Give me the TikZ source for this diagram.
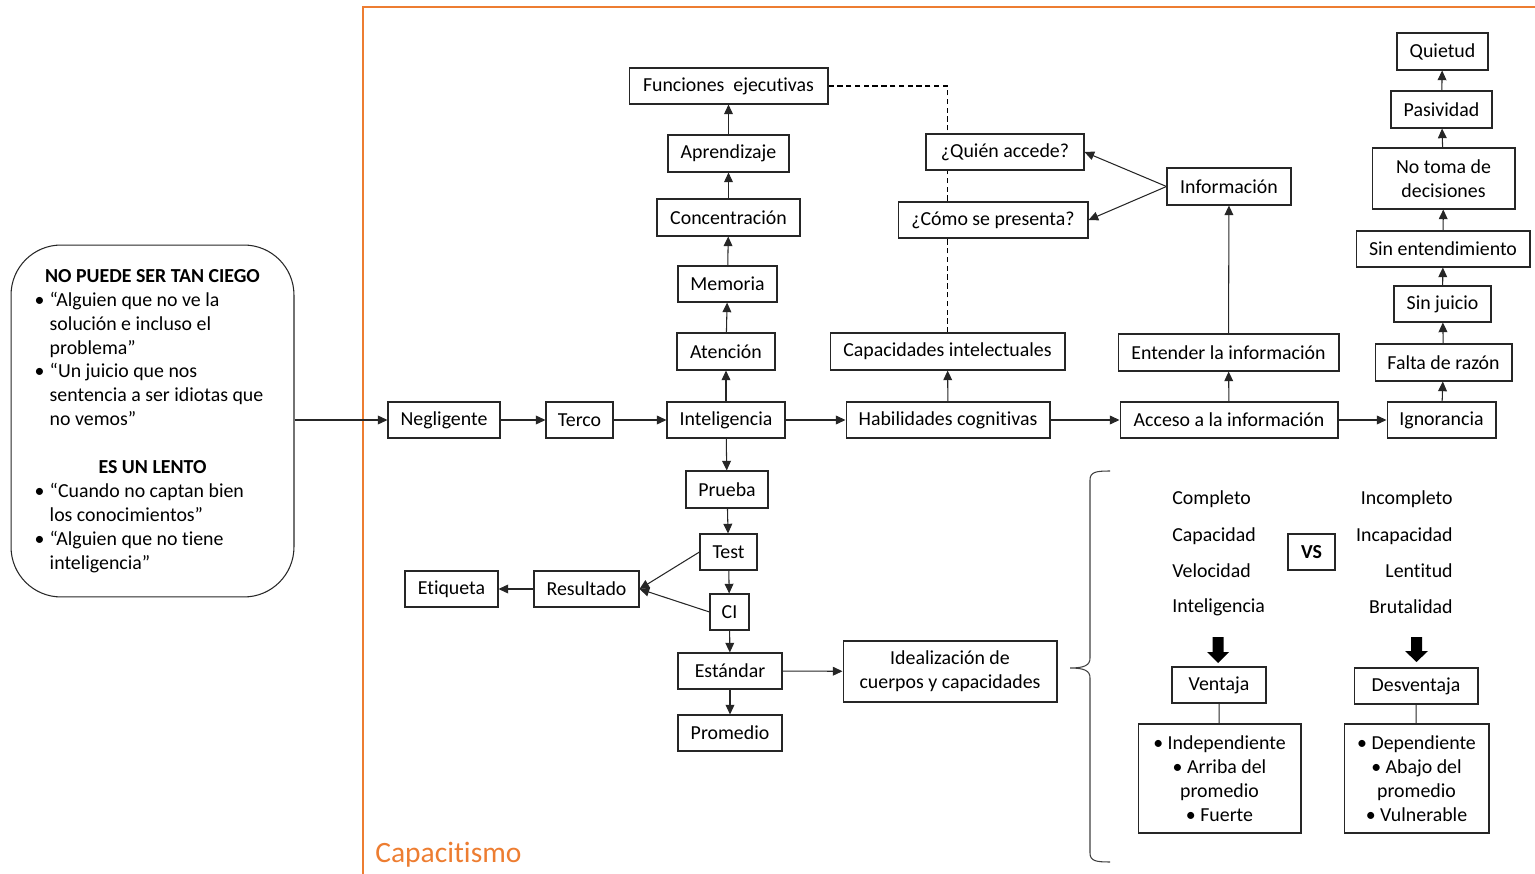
\documentclass[tikz,border=0pt]{standalone}
\usepackage{fontspec}
\setmainfont{Carlito}[Ligatures=NoCommon]
\usetikzlibrary{arrows.meta}
\definecolor{orng}{RGB}{237,125,49}
\begin{document}
\begin{tikzpicture}[x=0.02cm,y=-0.02cm,
  box/.style={draw=black!85,line width=0.6pt,fill=white,inner sep=0pt,minimum height=0.72cm,align=center,font=\fontsize{11.3}{13.6}\selectfont},
  txt/.style={inner sep=0pt,font=\fontsize{11.3}{13.6}\selectfont},
  arr/.style={-{Triangle[length=5.5pt,width=5pt]},line width=0.6pt,draw=black!85},
  ln/.style={line width=0.6pt,draw=black!85},
  dsh/.style={line width=0.6pt,dash pattern=on 3pt off 2pt},
  bigarrow/.style={fill=black}]
\useasboundingbox (0,0) rectangle (1535,874);
% frame
\draw[orng,line width=0.6pt] (363,874) -- (363,7) -- (1535,7);
\node[anchor=west,text=orng,inner sep=0pt,font=\fontsize{16.8}{20}\selectfont] (cap0) at (375,855) {Capacitismo};
% left box
\node[draw=black!85,line width=0.6pt,rounded corners=1cm,minimum width=5.66cm,minimum height=7.04cm,inner sep=0pt,font=\fontsize{11.3}{13.6}\selectfont] (left) at (152.5,421)
{\begin{tabular}{@{}l@{\hspace{3pt}}l@{}}
\multicolumn{2}{c}{\textbf{NO PUEDE SER TAN CIEGO}}\\
\textbullet & “Alguien que no ve la\\
 & solución e incluso el\\
 & problema”\\
\textbullet & “Un juicio que nos\\
 & sentencia a ser idiotas que\\
 & no vemos”\\
 & \\
\multicolumn{2}{c}{\textbf{ES UN LENTO}}\\
\textbullet & “Cuando no captan bien\\
 & los conocimientos”\\
\textbullet & “Alguien que no tiene\\
 & inteligencia”
\end{tabular}};
% main row
\node[box,minimum width=2.24cm] (neg) at (444,420) {Negligente};
\node[box,minimum width=1.34cm] (terco) at (579.5,420) {Terco};
\node[box,minimum width=2.36cm] (intel) at (726,420) {Inteligencia};
\node[box,minimum width=4.08cm] (hab) at (948,420) {Habilidades cognitivas};
\node[box,minimum width=4.36cm] (acc) at (1229,420) {Acceso a la información};
\node[box,minimum width=2.18cm] (ign) at (1441.5,420) {Ignorancia};
% up column
\node[box,minimum width=1.96cm,minimum height=0.74cm] (aten) at (726,351.5) {Atención};
\node[box,minimum width=1.98cm] (mem) at (727.5,284) {Memoria};
\node[box,minimum width=2.86cm,minimum height=0.74cm] (conc) at (728.5,217.5) {Concentración};
\node[box,minimum width=2.42cm,minimum height=0.74cm] (apr) at (728.5,153.5) {Aprendizaje};
\node[box,minimum width=3.98cm] (fun) at (728.5,86) {Funciones\ \ ejecutivas};
% middle
\node[box,minimum width=4.70cm,minimum height=0.74cm] (capi) at (947.5,351.5) {Capacidades intelectuales};
% dashed line (behind question boxes)
\draw[dsh] (capi.north) |- (fun.east);
\node[box,minimum width=3.16cm] (quien) at (1005,152) {¿Quién accede?};
\node[box,minimum width=3.80cm] (como) at (993,220) {¿Cómo se presenta?};
\node[box,minimum width=2.48cm,minimum height=0.74cm] (info) at (1229,186.5) {Información};
\node[box,minimum width=4.42cm,minimum height=0.74cm] (ent) at (1228.5,352.5) {Entender la información};
% right column
\node[box,minimum width=1.82cm,minimum height=0.74cm] (quiet) at (1442.5,51.5) {Quietud};
\node[box,minimum width=2.02cm,minimum height=0.74cm] (pas) at (1441.5,109.5) {Pasividad};
\node[box,minimum width=2.86cm,minimum height=1.22cm] (notoma) at (1443.5,178.5) {No toma de\\decisiones};
\node[box,minimum width=3.48cm] (sinent) at (1443,249) {Sin entendimiento};
\node[box,minimum width=1.94cm] (sinj) at (1442.5,304) {Sin juicio};
\node[box,minimum width=2.74cm,minimum height=0.74cm] (falta) at (1443.5,362.5) {Falta de razón};
% lower column
\node[box,minimum width=1.64cm,minimum height=0.74cm] (prueba) at (727,489.5) {Prueba};
\node[box,minimum width=1.14cm] (test) at (728.5,552) {Test};
\node[box,minimum width=0.78cm] (ci) at (729.5,612) {CI};
\node[box,minimum width=2.08cm] (est) at (730,671) {Estándar};
\node[box,minimum width=2.08cm] (prom) at (730,733) {Promedio};
\node[box,minimum width=2.10cm] (res) at (586.5,589) {Resultado};
\node[box,minimum width=1.86cm] (etq) at (451.5,589) {Etiqueta};
\node[box,minimum width=4.28cm,minimum height=1.22cm] (ideal) at (950,671.5) {Idealización de\\cuerpos y capacidades};
% connectors
\draw[arr] (left.east |- neg.west) -- (neg.west);
\draw[arr] (neg) -- (terco);
\draw[arr] (terco) -- (intel);
\draw[arr] (intel) -- (hab);
\draw[arr] (hab) -- (acc);
\draw[arr] (acc) -- (ign);
\draw[arr] (intel) -- (aten);
\draw[arr] (aten) -- (mem);
\draw[arr] (mem) -- (conc);
\draw[arr] (conc) -- (apr);
\draw[arr] (apr) -- (fun);
\draw[arr] (hab) -- (capi);
\draw[arr] (acc) -- (ent);
\draw[arr] (ent) -- (info);
\draw[arr] (info.west) -- (quien.east);
\draw[arr] (info.west) -- (como.east);
\draw[arr] (ign) -- (falta);
\draw[arr] (falta) -- (sinj);
\draw[arr] (sinj) -- (sinent);
\draw[arr] (sinent) -- (notoma);
\draw[arr] (notoma) -- (pas);
\draw[arr] (pas) -- (quiet);
\draw[arr] (intel) -- (prueba);
\draw[arr] (prueba) -- (test);
\draw[arr] (test) -- (ci);
\draw[arr] (ci) -- (est);
\draw[arr] (est) -- (prom);
\draw[arr] (est) -- (ideal);
\draw[arr] (test.west) -- (res.east);
\draw[arr] (ci.west) -- (res.east);
\draw[arr] (res) -- (etq);
% brace
\draw[line width=0.6pt,black!75] (1110,471) .. controls (1096,471) and (1090,472) .. (1090,480) -- (1090,658) .. controls (1090,665) and (1085,668) .. (1070,668) .. controls (1085,668) and (1090,671) .. (1090,678) -- (1090,853) .. controls (1090,861) and (1096,862) .. (1110,862);
% comparison
\node[txt,anchor=west] (c1) at (1172,499) {Completo};
\node[txt,anchor=west] (c2) at (1172,536) {Capacidad};
\node[txt,anchor=west] (c3) at (1172,571) {Velocidad};
\node[txt,anchor=west] (c4) at (1172,607) {Inteligencia};
\node[txt,anchor=east] (d1) at (1453,499) {Incompleto};
\node[txt,anchor=east] (d2) at (1453,536) {Incapacidad};
\node[txt,anchor=east] (d3) at (1453,571) {Lentitud};
\node[txt,anchor=east] (d4) at (1453,607) {Brutalidad};
\node[box,minimum width=0.94cm,font=\fontsize{11.3}{13.6}\selectfont\bfseries] (vs) at (1311.5,552) {VS};
\fill[bigarrow] (1212.5,637) -- (1223.5,637) -- (1223.5,652) -- (1229,652) -- (1218,663) -- (1207,652) -- (1212.5,652) -- cycle;
\fill[bigarrow] (1411,637) -- (1422,637) -- (1422,651) -- (1428,651) -- (1416.5,662) -- (1405,651) -- (1411,651) -- cycle;
\node[box,minimum width=1.88cm] (vent) at (1219,685) {Ventaja};
\node[box,minimum width=2.48cm] (desv) at (1416,686) {Desventaja};
\node[box,minimum width=3.26cm,minimum height=2.18cm] (indep) at (1219.5,778.5) {\textbullet\ Independiente\\\textbullet\ Arriba del\\promedio\\\textbullet\ Fuerte};
\node[box,minimum width=2.90cm,minimum height=2.18cm] (dep) at (1416.5,778.5) {\textbullet\ Dependiente\\\textbullet\ Abajo del\\promedio\\\textbullet\ Vulnerable};
\draw[ln] (vent) -- (indep);
\draw[ln] (desv) -- (dep);
\end{tikzpicture}
\end{document}
